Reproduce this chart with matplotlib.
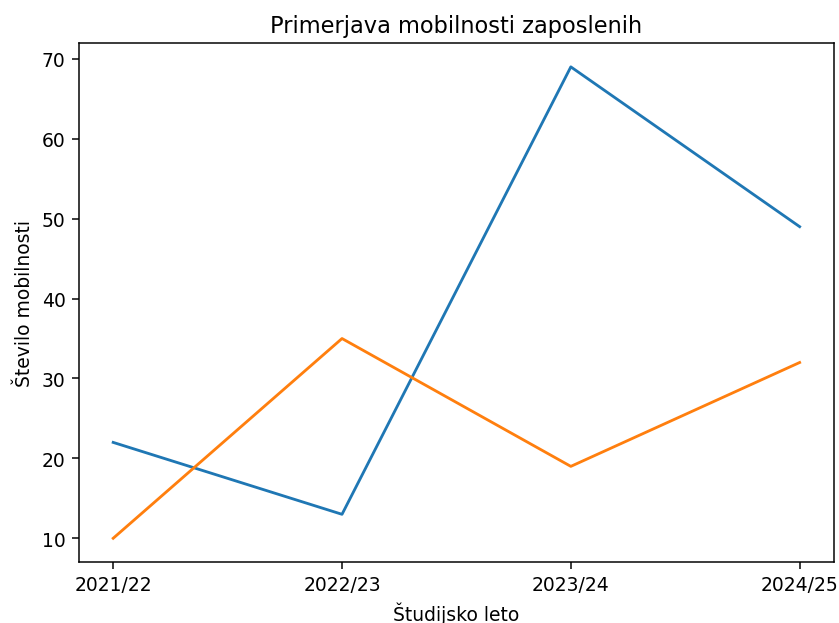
import matplotlib
matplotlib.use("Agg")
import matplotlib.pyplot as plt

# Data
years = ["2021/22", "2022/23", "2023/24", "2024/25"]
series_blue = [22, 13, 69, 49]
series_orange = [10, 35, 19, 32]

DPI = 135
fig, ax = plt.subplots(figsize=(839 / DPI, 624 / DPI), dpi=DPI)
fig.subplots_adjust(left=0.094, right=0.994, top=0.929, bottom=0.098)

ax.plot(years, series_blue)
ax.plot(years, series_orange)

ax.set_title("Primerjava mobilnosti zaposlenih")
ax.set_xlabel("Študijsko leto")
ax.set_ylabel("Število mobilnosti")

fig.savefig("out.png", dpi=DPI)
